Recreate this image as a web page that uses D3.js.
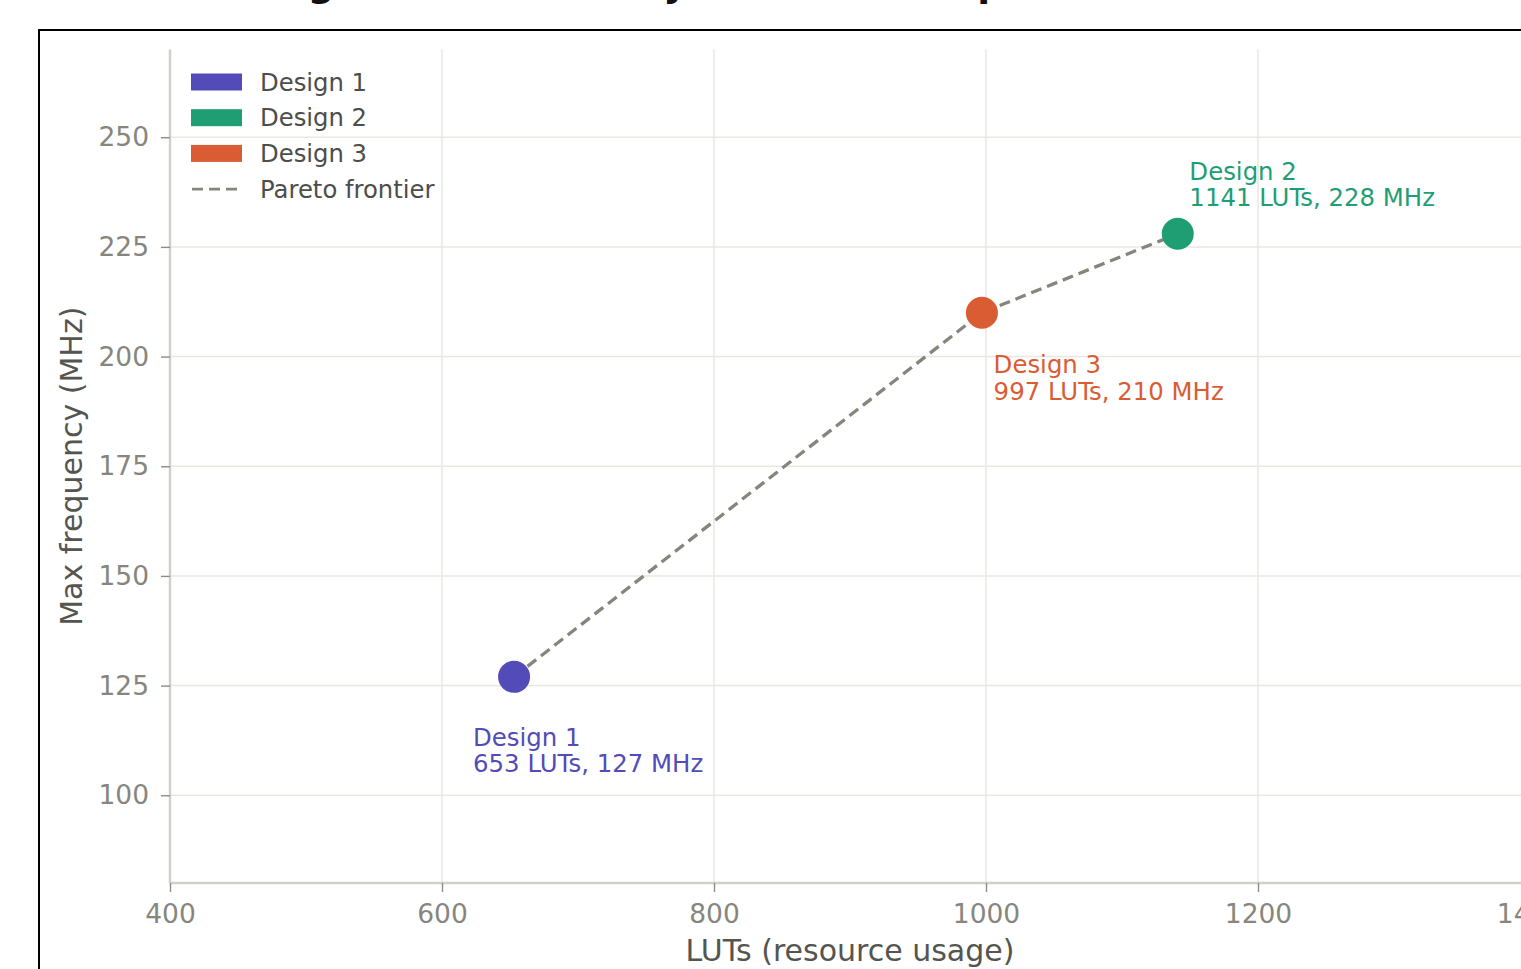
<!DOCTYPE html>
<html>
<head>
<meta charset="utf-8">
<script src="https://cdn.jsdelivr.net/npm/d3@7/dist/d3.min.js"></script>
<style>
  html, body { margin: 0; padding: 0; background: #fff; overflow: hidden; }
  svg { display: block; font-family: "DejaVu Sans", sans-serif; }
</style>
</head>
<body>
<svg id="chart" width="1521" height="969"></svg>
<script>
// ---- data ----
const designs = ["Design 1", "Design 2", "Design 3"];
const luts = [653, 1141, 997];
const freqMHz = [127, 228, 210];
const colors = ["#524bb8", "#1f9e74", "#d95c33"];
const paretoOrder = ["Design 1", "Design 3", "Design 2"];
const xTicks = [400, 600, 800, 1000, 1200, 1400];
const yTicks = [100, 125, 150, 175, 200, 225, 250];
const xDomain = [400, 1400];
const yDomain = [80, 270];
const titleText = "Design trade-off analysis: area vs. speed";
const xLabel = "LUTs (resource usage)";
const yLabel = "Max frequency (MHz)";
const legendLabels = ["Design 1", "Design 2", "Design 3", "Pareto frontier"];

const points = designs.map((d, i) => ({ name: d, x: luts[i], y: freqMHz[i], color: colors[i] }));

const svg = d3.select("#chart");
const pLeft = 170, pRight = 1530, pTop = 49.5, pBottom = 883;
const x = d3.scaleLinear().domain(xDomain).range([pLeft, pRight]);
const y = d3.scaleLinear().domain(yDomain).range([pBottom, pTop]);

// figure border
svg.append("rect").attr("x", 39).attr("y", 30).attr("width", 1600).attr("height", 1000)
  .attr("fill", "none").attr("stroke", "#000").attr("stroke-width", 2);

// title (mostly cropped above viewport)
svg.append("text").attr("x", 216).attr("y", -4.5)
  .attr("font-size", 37.5).attr("font-weight", "bold").attr("fill", "#111")
  .text(titleText);

// grid
svg.append("g").selectAll("line").data(xTicks).join("line")
  .attr("x1", d => x(d)).attr("x2", d => x(d)).attr("y1", pTop).attr("y2", pBottom)
  .attr("stroke", "#e9e7e1").attr("stroke-width", 1.5);
svg.append("g").selectAll("line").data(yTicks).join("line")
  .attr("x1", pLeft).attr("x2", pRight).attr("y1", d => y(d)).attr("y2", d => y(d))
  .attr("stroke", "#e9e7e1").attr("stroke-width", 1.5);

// axes
const xAxis = d3.axisBottom(x).tickValues(xTicks).tickSize(9).tickPadding(12).tickFormat(d3.format("d"));
const gx = svg.append("g").attr("transform", `translate(0,${pBottom})`).call(xAxis);
const yAxis = d3.axisLeft(y).tickValues(yTicks).tickSize(9).tickPadding(12).tickFormat(d3.format("d"));
const gy = svg.append("g").attr("transform", `translate(${pLeft},0)`).call(yAxis);
[gx, gy].forEach(g => {
  g.select(".domain").attr("stroke", "#d2d0c8").attr("stroke-width", 2.5);
  g.selectAll(".tick line").attr("stroke", "#8c8c84").attr("stroke-width", 1.4);
  g.selectAll(".tick text").attr("fill", "#86867e").attr("font-size", 26.5)
    .attr("font-family", "DejaVu Sans, sans-serif");
});
gx.select(".domain").attr("d", `M${pLeft},0H${pRight}`);
gy.select(".domain").attr("d", `M0,${pTop}V${pBottom}`);

// axis labels
svg.append("text").attr("x", (pLeft + pRight) / 2).attr("y", 961).attr("text-anchor", "middle")
  .attr("font-size", 30).attr("fill", "#555550").text(xLabel);
svg.append("text").attr("transform", `translate(82,${(pTop + pBottom) / 2}) rotate(-90)`)
  .attr("text-anchor", "middle").attr("font-size", 30).attr("fill", "#555550").text(yLabel);

// pareto line
const pareto = paretoOrder.map(n => points.find(p => p.name === n));
svg.append("path").datum(pareto)
  .attr("d", d3.line().x(d => x(d.x)).y(d => y(d.y)))
  .attr("fill", "none").attr("stroke", "#85857d").attr("stroke-width", 3.3)
  .attr("stroke-dasharray", "11,6");

// points
svg.append("g").selectAll("circle").data(points).join("circle")
  .attr("cx", d => x(d.x)).attr("cy", d => y(d.y)).attr("r", 16)
  .attr("fill", d => d.color);

// annotations
const annoOffset = {"Design 1": [-41, 69, 26], "Design 2": [11.6, -54, 26], "Design 3": [11.7, 60, 27]};
points.forEach(p => {
  const [dx, dy, gap] = annoOffset[p.name];
  const t = svg.append("text").attr("x", x(p.x) + dx).attr("y", y(p.y) + dy)
    .attr("font-size", 24.4).attr("fill", p.color);
  t.append("tspan").attr("x", x(p.x) + dx).text(p.name);
  t.append("tspan").attr("x", x(p.x) + dx).attr("dy", gap).text(`${p.x} LUTs, ${p.y} MHz`);
});

// legend
const lg = svg.append("g");
legendLabels.forEach((lab, i) => {
  const cy = 82 + i * 35.7;
  if (i < 3) {
    lg.append("rect").attr("x", 191).attr("y", cy - 8.5).attr("width", 51).attr("height", 17)
      .attr("fill", colors[i]);
  } else {
    lg.append("line").attr("x1", 192).attr("x2", 240).attr("y1", cy).attr("y2", cy)
      .attr("stroke", "#85857d").attr("stroke-width", 2.8).attr("stroke-dasharray", "11,6");
  }
  lg.append("text").attr("x", 260).attr("y", cy + 8.5).attr("font-size", 24.3)
    .attr("fill", "#4d4d4a").text(lab);
});
</script>
</body>
</html>
